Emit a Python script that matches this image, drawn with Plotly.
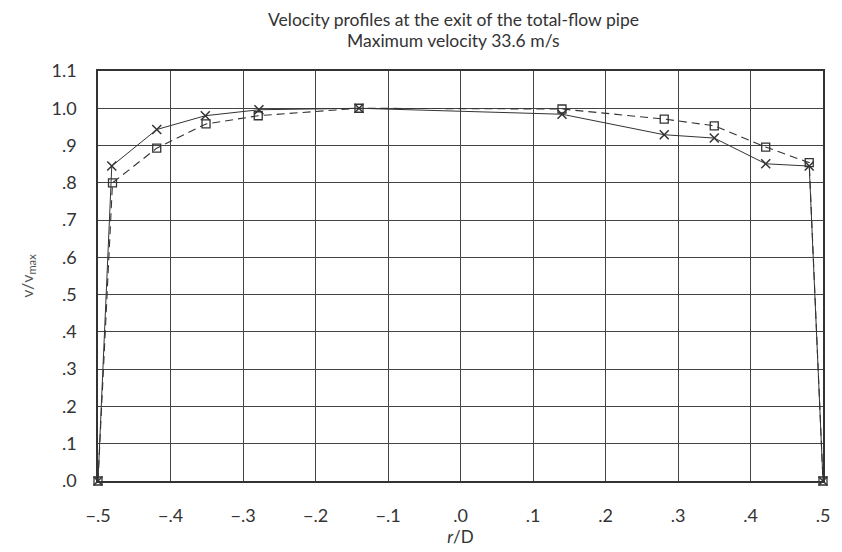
import plotly.graph_objects as go

# Series: crosses (solid line)
x_cross = [-0.5, -0.481, -0.419, -0.352, -0.278, -0.14, 0.14, 0.281, 0.35, 0.421, 0.481, 0.5]
y_cross = [0.0, 0.845, 0.943, 0.98, 0.996, 1.0, 0.984, 0.929, 0.92, 0.851, 0.845, 0.0]

# Series: squares (dashed line)
x_square = [-0.5, -0.48, -0.419, -0.351, -0.279, -0.14, 0.14, 0.281, 0.35, 0.421, 0.481, 0.5]
y_square = [0.0, 0.80, 0.893, 0.958, 0.98, 1.0, 0.998, 0.971, 0.953, 0.896, 0.854, 0.0]

x_ticks = [-0.5, -0.4, -0.3, -0.2, -0.1, 0.0, 0.1, 0.2, 0.3, 0.4, 0.5]
x_tick_labels = ["\u2212.5", "\u2212.4", "\u2212.3", "\u2212.2", "\u2212.1", ".0", ".1", ".2", ".3", ".4", ".5"]
y_ticks = [0.0, 0.1, 0.2, 0.3, 0.4, 0.5, 0.6, 0.7, 0.8, 0.9, 1.0, 1.1]
y_tick_labels = [".0", ".1", ".2", ".3", ".4", ".5", ".6", ".7", ".8", ".9", "1.0", "1.1"]

title_lines = ["Velocity profiles at the exit of the total-flow pipe", "Maximum velocity 33.6 m/s"]

FONT = "Lato, 'Open Sans', sans-serif"
INK = "#333333"

fig = go.Figure()
fig.add_trace(go.Scatter(
    x=x_square, y=y_square, mode="lines+markers", cliponaxis=False,
    line=dict(color=INK, width=1.1, dash="8px,5px"),
    marker=dict(symbol="square-open", size=8, color=INK, line=dict(width=1.3, color=INK)),
    showlegend=False,
))
fig.add_trace(go.Scatter(
    x=x_cross, y=y_cross, mode="lines+markers", cliponaxis=False,
    line=dict(color=INK, width=1.0),
    marker=dict(symbol="x-thin-open", size=9, color=INK, line=dict(width=1.5, color=INK)),
    showlegend=False,
))

fig.update_layout(
    width=842, height=552,
    margin=dict(l=98, r=13, t=71, b=70),
    paper_bgcolor="white", plot_bgcolor="white",
    font=dict(family=FONT, color=INK, size=16),
)
for txt, ypx in zip(title_lines, [19, 40]):
    fig.add_annotation(
        text=txt, xref="paper", x=(456 - 98) / 731.0, xanchor="center",
        yref="paper", y=1 + (71 - ypx) / 411.0, yanchor="middle",
        showarrow=False, font=dict(family=FONT, size=17.5, color=INK),
    )

fig.update_xaxes(
    range=[-0.5, 0.5], tickmode="array", tickvals=x_ticks, ticktext=x_tick_labels,
    showgrid=True, gridcolor="#444444", gridwidth=1.3,
    showline=True, linecolor=INK, linewidth=1.5, mirror=True,
    zeroline=False, ticks="", ticklabelstandoff=18,
    tickfont=dict(family=FONT, size=18, color=INK),
    title=dict(text="<i>r</i>/D", standoff=2, font=dict(family=FONT, size=17, color=INK)),
)
fig.update_yaxes(
    range=[0.0, 1.1], tickmode="array", tickvals=y_ticks, ticktext=y_tick_labels,
    showgrid=True, gridcolor="#444444", gridwidth=1.3,
    showline=True, linecolor=INK, linewidth=1.5, mirror=True,
    zeroline=False, ticks="", ticklabelstandoff=16,
    tickfont=dict(family=FONT, size=18, color=INK),
    title=dict(text="v/v<sub>max</sub>", standoff=14, font=dict(family=FONT, size=16, color="#555555")),
)

fig.write_html("out.html")
